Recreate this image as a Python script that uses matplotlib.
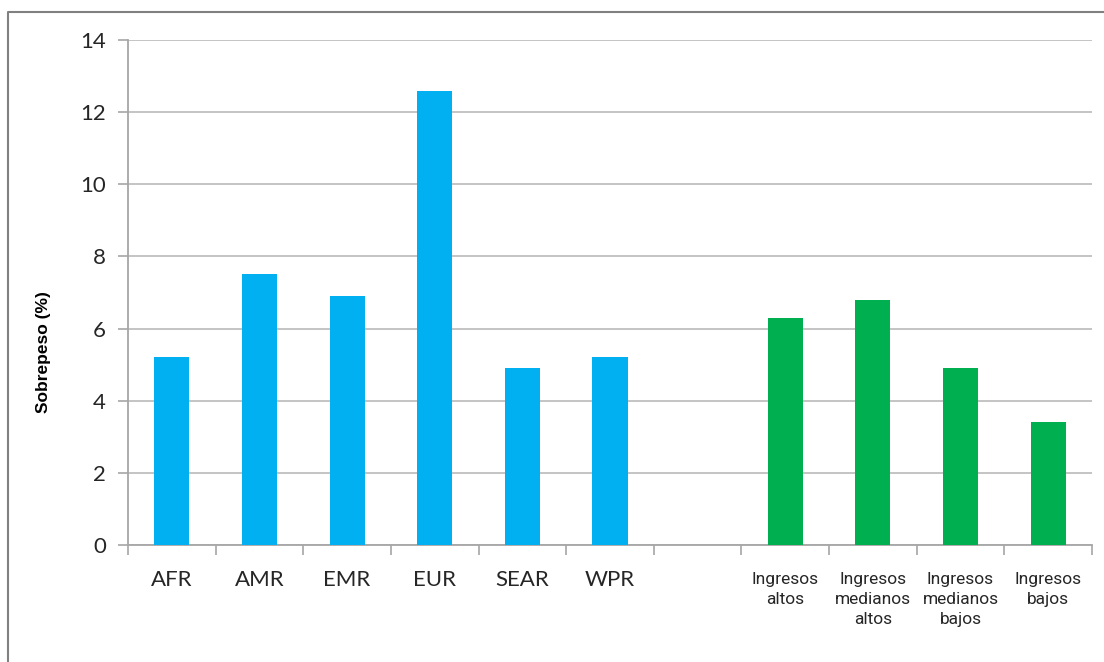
import matplotlib
matplotlib.use("Agg")
import matplotlib.pyplot as plt
from matplotlib.lines import Line2D
from matplotlib import font_manager

categories = ["AFR", "AMR", "EMR", "EUR", "SEAR", "WPR", "",
              "Ingresos\naltos", "Ingresos\nmedianos\naltos",
              "Ingresos\nmedianos\nbajos", "Ingresos\nbajos"]
values = [5.2, 7.5, 6.9, 12.6, 4.9, 5.2, 0.0, 6.3, 6.8, 4.9, 3.4]
groups = ["region"] * 6 + ["none"] + ["income"] * 4
yticks = [0, 2, 4, 6, 8, 10, 12, 14]

colors = {"region": "#00B0F0", "income": "#00B050", "none": "none"}

names = {f.name for f in font_manager.fontManager.ttflist}
narrow = "Liberation Sans Narrow" if "Liberation Sans Narrow" in names else "Roboto"

W, H = 1104, 662
fig = plt.figure(figsize=(W / 100, H / 100), dpi=100)
ax = fig.add_axes([128 / W, 1 - 545 / H, (1092 - 128) / W, (545 - 40) / H])

x = list(range(len(categories)))
bar_colors = [colors[g] for g in groups]
ax.bar(x, values, width=0.4, color=bar_colors, zorder=3)

ax.set_xlim(-0.5, len(categories) - 0.5)
ax.set_ylim(0, 14)
ax.set_yticks(yticks)
ax.set_yticklabels([str(v) for v in yticks], fontfamily="Lato", fontsize=16, color="#262626")
ax.yaxis.grid(True, color="#BFBFBF", linewidth=1.3, zorder=0)
ax.tick_params(axis="y", length=7, width=1.2, color="#A6A6A6", pad=9)

# major ticks at boundaries, labels at centers
ax.set_xticks([i - 0.5 for i in range(len(categories) + 1)])
ax.set_xticklabels([])
ax.tick_params(axis="x", which="major", length=7, width=1.2, color="#A6A6A6")
ax.set_xticks(x, minor=True)
ax.set_xticklabels(categories, minor=True)
ax.tick_params(axis="x", which="minor", length=0, pad=18)
for lab, g in zip(ax.xaxis.get_minorticklabels(), groups):
    if g == "income":
        lab.set_fontfamily(narrow)
        lab.set_fontsize(12.5)
        lab.set_linespacing(1.4)
        lab.set_y(lab.get_position()[1] - 0.004)
    else:
        lab.set_fontfamily("Lato")
        lab.set_fontsize(16)
    lab.set_color("#262626")

for s in ["top", "right"]:
    ax.spines[s].set_visible(False)
for s in ["left", "bottom"]:
    ax.spines[s].set_color("#A6A6A6")
    ax.spines[s].set_linewidth(1.3)

ax.set_ylabel("Sobrepeso (%)", fontfamily="Liberation Sans", fontweight="bold",
              fontsize=12.5)
ax.yaxis.set_label_coords(-(128 - 51) / (1092 - 128), (545 - 352) / (545 - 40))

# outer frame (top and left edges visible)
fig.add_artist(Line2D([8 / W, 8 / W, 1.0], [0.0, 1 - 12 / H, 1 - 12 / H],
                      transform=fig.transFigure, color="#808080", linewidth=1.5))

fig.savefig("out.png", dpi=100)
